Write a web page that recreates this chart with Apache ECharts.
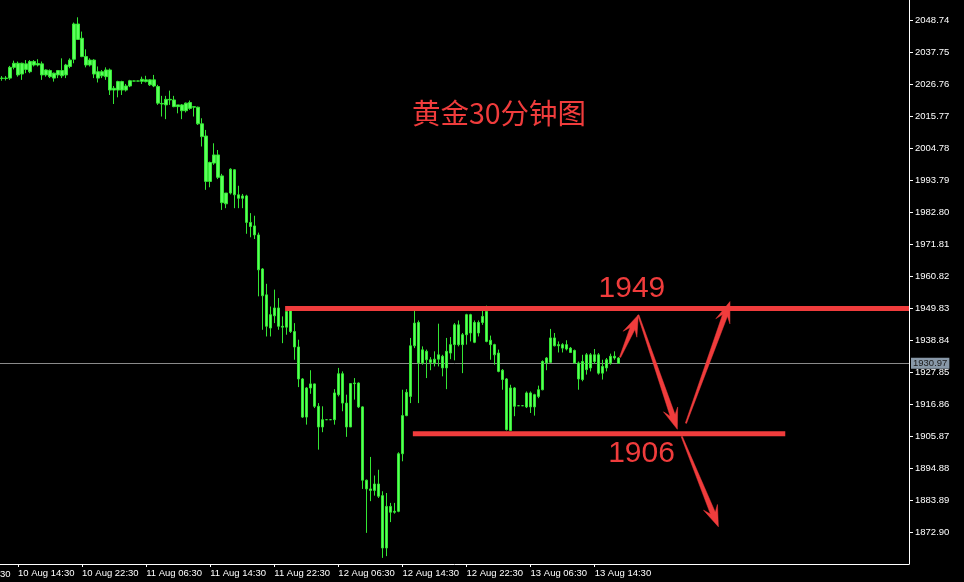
<!DOCTYPE html>
<html>
<head>
<meta charset="utf-8">
<script src="https://cdn.jsdelivr.net/npm/echarts@6/dist/echarts.min.js"></script>
<style>
html,body{margin:0;padding:0;background:#000;}
#chart{width:964px;height:582px;}
</style>
</head>
<body>
<div id="chart"></div>
<script>
// ---- data ----
const startDay = 10;            // 10 Aug
const startMinute = 12 * 60 + 30; // first bar 12:30
const slotCount = 227;          // category slots across the plot
const tickLabels = ['10 Aug 14:30','10 Aug 22:30','11 Aug 06:30','11 Aug 14:30','11 Aug 22:30','12 Aug 06:30','12 Aug 14:30','12 Aug 22:30','13 Aug 06:30','13 Aug 14:30'];
const yTicks = [1872.90,1883.89,1894.88,1905.87,1916.86,1927.85,1938.84,1949.83,1960.82,1971.81,1982.80,1993.79,2004.78,2015.77,2026.76,2037.75,2048.74];
const yMin = 1862.0, yMax = 2055.85;
const bidPrice = 1930.97;

const opens = [2028.9,2029.0,2029.0,2032.7,2034.1,2030.4,2033.9,2031.2,2034.7,2033.5,
2033.9,2030.1,2031.6,2030.7,2030.1,2031.6,2030.1,2033.0,2035.5,2047.6,
2042.7,2036.4,2033.5,2035.2,2031.2,2029.8,2029.5,2031.8,2024.9,2024.9,
2027.8,2024.9,2026.3,2028.0,2028.0,2027.9,2028.4,2026.7,2028.4,2026.1,
2020.1,2019.8,2021.7,2021.5,2019.2,2019.8,2017.8,2018.6,2019.2,2019.0,
2013.3,2009.1,1993.5,1999.8,2002.6,1995.4,1985.8,1989.5,1997.5,1988.9,
1987.7,1988.5,1979.4,1978.2,1975.1,1963.4,1954.5,1943.1,1947.3,1950.0,
1943.7,1943.4,1949.2,1941.9,1936.6,1925.6,1912.5,1922.5,1923.9,1916.2,
1909.1,1911.6,1911.6,1911.6,1920.2,1927.4,1917.3,1909.1,1924.0,1924.2,
1916.0,1890.8,1887.8,1887.3,1889.5,1885.5,1867.5,1881.8,1879.8,1880.1,
1899.9,1913.0,1919.6,1937.0,1945.0,1931.1,1935.1,1932.2,1931.1,1932.4,
1933.4,1929.4,1934.5,1937.4,1944.2,1937.4,1940.8,1947.7,1945.0,1941.4,
1945.0,1948.8,1938.9,1937.4,1934.5,1928.6,1925.6,1907.9,1922.5,1916.4,
1916.4,1916.0,1920.8,1916.0,1919.6,1921.9,1931.1,1931.3,1939.7,1937.0,
1937.4,1935.9,1936.2,1935.4,1931.1,1925.4,1928.8,1933.9,1931.6,1933.9,
1927.6,1929.4,1931.1,1933.4,1932.8];
const closes = [2029.0,2028.9,2032.7,2034.1,2030.1,2034.1,2032.0,2034.7,2033.5,2034.0,
2030.1,2031.8,2029.5,2029.0,2031.6,2029.8,2033.5,2035.2,2047.6,2042.3,
2036.4,2033.5,2035.2,2030.4,2029.0,2031.2,2031.8,2024.9,2025.5,2027.8,
2024.9,2026.3,2028.1,2028.0,2028.0,2028.6,2027.8,2028.4,2026.3,2020.4,
2020.3,2021.7,2021.5,2019.2,2019.8,2017.8,2020.4,2020.6,2019.0,2013.3,
2008.9,1993.5,2000.0,2002.6,1994.9,1986.2,1989.5,1997.7,1988.9,1987.7,
1988.5,1979.4,1978.0,1975.1,1963.1,1954.2,1943.7,1947.7,1950.0,1943.7,
1943.4,1948.8,1941.9,1936.6,1925.6,1912.5,1922.5,1923.9,1916.2,1909.1,
1911.6,1911.6,1911.6,1920.8,1927.4,1917.3,1909.1,1924.0,1924.2,1916.0,
1890.8,1887.8,1887.3,1889.5,1885.3,1867.5,1881.8,1879.8,1880.1,1899.9,
1913.0,1921.0,1937.0,1944.8,1931.1,1935.6,1932.2,1931.3,1932.4,1933.9,
1929.4,1935.1,1937.4,1944.2,1937.4,1940.8,1947.7,1941.4,1938.2,1945.0,
1947.1,1938.5,1937.4,1933.9,1928.2,1925.4,1908.2,1922.5,1916.2,1916.4,
1916.4,1920.8,1916.0,1920.2,1921.9,1931.6,1932.8,1939.7,1937.0,1937.4,
1936.2,1937.4,1934.7,1931.1,1925.6,1931.6,1933.9,1929.4,1933.9,1927.6,
1929.9,1932.2,1933.4,1932.8,1930.97];
const lows = [2028.1,2028.2,2028.4,2032.0,2029.5,2028.4,2030.7,2030.7,2033.0,2033.0,
2028.4,2029.5,2029.0,2027.8,2029.0,2029.0,2029.0,2032.4,2034.1,2042.1,
2036.2,2032.7,2033.0,2029.0,2027.5,2029.0,2028.4,2023.2,2020.1,2022.4,
2023.2,2024.4,2025.9,2027.9,2027.9,2027.0,2027.5,2026.3,2025.9,2019.8,
2015.8,2014.9,2019.8,2019.0,2016.9,2014.9,2017.2,2018.1,2015.8,2012.9,
2005.5,1990.6,1991.5,1999.2,1994.3,1983.7,1984.3,1989.0,1984.3,1984.3,
1984.3,1975.5,1974.3,1973.7,1954.0,1942.5,1940.2,1940.2,1944.8,1942.5,
1937.9,1940.8,1941.4,1932.2,1922.8,1912.2,1909.9,1920.5,1915.6,1901.3,
1907.3,1911.5,1911.5,1909.9,1919.6,1914.5,1905.7,1909.1,1918.5,1915.6,
1887.8,1872.7,1883.6,1885.5,1884.7,1864.1,1864.7,1876.4,1879.3,1879.8,
1897.3,1912.8,1917.3,1936.2,1917.3,1930.5,1925.9,1928.6,1929.9,1929.9,
1926.5,1922.1,1932.4,1932.0,1936.8,1927.6,1937.4,1938.5,1937.9,1940.2,
1944.2,1938.2,1932.2,1930.5,1927.9,1921.9,1907.9,1907.9,1912.8,1916.3,
1916.3,1915.6,1913.9,1913.0,1919.0,1921.7,1928.6,1931.1,1936.8,1934.7,
1934.7,1935.4,1934.5,1930.8,1921.9,1924.8,1927.1,1928.2,1930.8,1927.1,
1925.4,1928.2,1930.5,1932.2,1930.8];
const highs = [2029.7,2029.7,2033.2,2035.0,2034.7,2034.3,2035.2,2035.2,2035.2,2035.5,
2034.7,2032.0,2032.0,2030.9,2031.8,2035.8,2033.9,2035.8,2048.1,2049.9,
2045.0,2038.9,2035.8,2035.5,2033.0,2031.8,2032.7,2032.3,2026.3,2028.1,
2028.1,2027.0,2028.4,2028.1,2028.1,2029.5,2029.8,2028.6,2030.1,2026.7,
2022.9,2022.9,2024.7,2022.9,2019.8,2020.1,2020.6,2021.3,2019.4,2019.2,
2015.2,2011.2,2000.3,2006.6,2004.3,1996.1,1989.5,1998.0,1997.7,1992.0,
1989.2,1988.9,1982.6,1981.7,1975.9,1963.7,1958.3,1950.5,1956.3,1953.4,
1947.1,1950.3,1950.0,1944.8,1939.1,1925.9,1922.8,1928.6,1924.0,1917.3,
1916.2,1911.7,1911.7,1922.1,1929.4,1928.2,1920.2,1924.2,1925.9,1924.4,
1916.2,1891.0,1898.8,1892.4,1894.4,1887.0,1886.4,1883.0,1883.0,1900.4,
1921.9,1922.1,1939.7,1949.4,1945.7,1936.8,1935.7,1933.1,1935.1,1944.6,
1933.9,1939.7,1940.0,1944.8,1945.7,1941.4,1948.0,1948.0,1945.7,1945.7,
1949.2,1950.8,1940.5,1937.7,1935.7,1929.0,1925.9,1923.6,1922.8,1916.5,
1916.5,1921.3,1921.3,1920.5,1923.3,1932.0,1933.1,1942.8,1941.4,1938.5,
1937.9,1938.9,1936.6,1935.7,1931.6,1933.9,1934.5,1934.5,1935.9,1934.5,
1932.2,1932.8,1934.3,1935.1,1933.1];

// annotation levels (bar index, price)
const resistanceLine = [[70.7, 1949.85], [226.5, 1949.85]];
const supportLine = [[102.6, 1906.8], [195.6, 1906.8]];
// arrows: [fromBar, fromPrice, toBar, toPrice]
const arrows = [
  [154.35, 1933.05, 158.9, 1947.6],
  [158.9, 1947.6, 168.65, 1908.3],
  [170.8, 1910.4, 181.8, 1952.2],
  [169.75, 1905.8, 178.9, 1874.8]
];
const levelLabels = [
  {name: '1949', value: [157.3, 1956.5]},
  {name: '1906', value: [159.7, 1899.8]}
];
const titleText = '黄金30分钟图';

// ---- build ----
function pad(n){ return (n < 10 ? '0' : '') + n; }
const categories = [];
for (let i = 0; i < slotCount; i++) {
  const t = startMinute + i * 30;
  const d = startDay + Math.floor(t / 1440);
  const m = t % 1440;
  categories.push(d + ' Aug ' + pad(Math.floor(m / 60)) + ':' + pad(m % 60));
}
const candles = opens.map((o, i) => [o, closes[i], lows[i], highs[i]]);

const RED = '#f03c3c';
const FONT = '"Liberation Sans", "DejaVu Sans", sans-serif';
const showTick = (idx, val) => tickLabels.indexOf(val) >= 0;

const chart = echarts.init(document.getElementById('chart'), null, {renderer: 'canvas'});
chart.setOption({
  backgroundColor: '#000',
  animation: false,
  grid: {left: 0, right: 55, top: 0, bottom: 18, containLabel: false},
  xAxis: [{
    type: 'category',
    data: categories,
    boundaryGap: true,
    axisLine: {show: true, onZero: false, lineStyle: {color: '#fff', width: 1}},
    axisTick: {show: true, interval: showTick, alignWithLabel: true, length: 3, lineStyle: {color: '#fff'}},
    axisLabel: {show: true, interval: showTick, align: 'left', color: '#fff', fontSize: 9.5, fontFamily: FONT, margin: 4},
    splitLine: {show: false}
  }, {
    type: 'value', min: -0.5, max: slotCount - 0.5, show: false,
    axisLine: {onZero: false}
  }],
  yAxis: {
    type: 'value',
    position: 'right',
    min: yMin, max: yMax,
    scale: true,
    axisLine: {show: true, onZero: false, lineStyle: {color: '#fff', width: 1}},
    axisTick: {show: true, customValues: yTicks, length: 4, lineStyle: {color: '#fff'}},
    axisLabel: {show: true, customValues: yTicks, formatter: v => v.toFixed(2), color: '#fff', fontSize: 9.5, fontFamily: FONT, margin: 6},
    splitLine: {show: false}
  },
  graphic: [
    {type: 'text', x: 499, y: 113, z: 100,
     style: {text: titleText, fill: RED, fontSize: 28.5, fontFamily: '"Noto Sans CJK SC", sans-serif', align: 'center', verticalAlign: 'middle'}},
    {type: 'text', x: -46, y: 574,
     style: {text: '10 Aug 06:30', fill: '#fff', fontSize: 9.5, fontFamily: FONT, align: 'left', verticalAlign: 'middle'}}
  ],
  series: [{
    type: 'candlestick',
    xAxisIndex: 0,
    data: candles,
    barWidth: 3,
    itemStyle: {color: '#5cff5c', color0: '#5cff5c', borderColor: '#33e633', borderColor0: '#33e633', borderWidth: 1},
    markLine: {
      silent: true,
      symbol: ['none', 'none'],
      z: 1,
      lineStyle: {color: '#8a8a8a', width: 1, type: 'solid'},
      label: {show: true, position: 'end', distance: 2, formatter: bidPrice.toFixed(2),
              backgroundColor: '#8898a8', color: '#1a1a1a', fontSize: 9.5, fontFamily: FONT, padding: [1, 2, 0, 2]},
      data: [{yAxis: bidPrice}]
    }
  }, {
    type: 'line', xAxisIndex: 1, data: resistanceLine, symbol: 'none', z: 5,
    lineStyle: {color: RED, width: 5}
  }, {
    type: 'line', xAxisIndex: 1, data: supportLine, symbol: 'none', z: 5,
    lineStyle: {color: RED, width: 5}
  }, {
    type: 'custom', xAxisIndex: 1, z: 6, clip: false,
    data: arrows,
    encode: {x: [0, 2], y: [1, 3]},
    renderItem: function (params, api) {
      const p0 = api.coord([api.value(0), api.value(1)]);
      const p1 = api.coord([api.value(2), api.value(3)]);
      const dx = p1[0] - p0[0], dy = p1[1] - p0[1];
      const len = Math.sqrt(dx * dx + dy * dy);
      const ux = dx / len, uy = dy / len, nx = -uy, ny = ux;
      const headLen = 21, headW = 7.5, shaftW = 2.6, tailW = 0.6;
      const bx = p1[0] - ux * headLen, by = p1[1] - uy * headLen;
      const jx = p1[0] - ux * headLen * 0.7, jy = p1[1] - uy * headLen * 0.7;
      const pts = [
        [p0[0] + nx * tailW, p0[1] + ny * tailW],
        [jx + nx * shaftW, jy + ny * shaftW],
        [bx + nx * headW, by + ny * headW],
        [p1[0], p1[1]],
        [bx - nx * headW, by - ny * headW],
        [jx - nx * shaftW, jy - ny * shaftW],
        [p0[0] - nx * tailW, p0[1] - ny * tailW]
      ];
      return {type: 'polygon', shape: {points: pts}, style: {fill: RED, stroke: RED, lineWidth: 0.5}};
    }
  }, {
    type: 'scatter', xAxisIndex: 1, z: 7, symbolSize: 0,
    itemStyle: {opacity: 1},
    data: levelLabels,
    label: {show: true, position: 'inside', formatter: '{b}', color: RED, opacity: 1, fontSize: 30, fontFamily: FONT}
  }]
});
</script>
</body>
</html>
